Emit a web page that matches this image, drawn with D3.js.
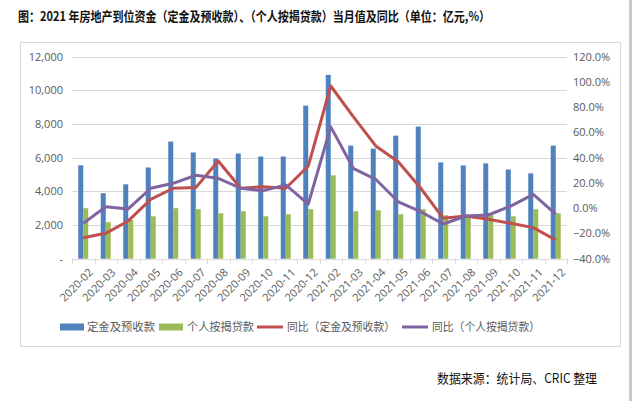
<!DOCTYPE html>
<html><head><meta charset="utf-8">
<script src="https://cdn.jsdelivr.net/npm/d3@7"></script>
<style>
html,body{margin:0;padding:0;background:#fff;}
svg{display:block;}
</style>
</head><body>
<svg id="chart" width="632" height="401"></svg>
<script>
const categories = ["2020-02","2020-03","2020-04","2020-05","2020-06","2020-07","2020-08","2020-09","2020-10","2020-11","2020-12",
  "2021-02","2021-03","2021-04","2021-05","2021-06","2021-07","2021-08","2021-09","2021-10","2021-11","2021-12"];
const depositValues = [5550,3890,4420,5420,6960,6310,5950,6250,6070,6070,9090,
  10920,6720,6540,7310,7850,5720,5540,5660,5300,5070,6720];
const mortgageValues = [3000,2170,2300,2520,3000,2940,2700,2820,2520,2640,2940,
  4950,2820,2880,2640,2940,2580,2520,2580,2520,2940,2700];
const depositYoY = [-23.4,-19.9,-10.1,7.0,15.8,16.3,37.4,15.8,17.0,15.8,33.4,
  96.8,72.5,49.3,36.8,15.8,-8.0,-6.2,-8.8,-12.0,-15.4,-25.2];
const mortgageYoY = [-12.0,1.2,-0.6,15.8,19.7,26.1,23.7,15.8,13.9,18.4,3.3,
  64.4,31.6,22.9,5.1,-2.8,-12.5,-6.2,-5.4,1.7,11.0,-4.6];
const leftTicks = [0,2000,4000,6000,8000,10000,12000];
const rightTicks = [-40,-20,0,20,40,60,80,100,120];
const seriesNames = ["定金及预收款","个人按揭贷款","同比（定金及预收款）","同比（个人按揭贷款）"];
const colors = ["#4F81BD","#9BBB59","#C0504D","#8064A2"];
const titleText = "图：2021 年房地产到位资金（定金及预收款）、（个人按揭贷款）当月值及同比（单位：亿元,%）";
const sourceText = "数据来源：统计局、CRIC 整理";

const svg = d3.select("#chart");
const font = "'Noto Sans CJK SC','Microsoft YaHei',sans-serif";
const L = 72, R = 567, T = 56.7, B = 258.7;

// frame
svg.append("rect").attr("x",20.5).attr("y",42.5).attr("width",600).attr("height",304)
  .attr("fill","none").attr("stroke","#D9D9D9");
svg.append("rect").attr("x",629).attr("y",0).attr("width",3).attr("height",401).attr("fill","#C8C8C8");

// title
svg.append("text").attr("x",18).attr("y",21).attr("font-family",font).attr("font-weight","bold")
  .attr("font-size",13).attr("fill","#111").attr("textLength",472).attr("lengthAdjust","spacingAndGlyphs")
  .text(titleText);

const x = d3.scaleBand().domain(categories).range([L,R]).paddingInner(0).paddingOuter(0);
const yL = d3.scaleLinear().domain([0,12000]).range([B,T]);
const yR = d3.scaleLinear().domain([-40,120]).range([B,T]);

// gridlines
svg.append("g").selectAll("line").data(leftTicks.slice(1)).join("line")
  .attr("x1",L).attr("x2",R).attr("y1",d=>Math.round(yL(d))+0.5).attr("y2",d=>Math.round(yL(d))+0.5)
  .attr("stroke","#D9D9D9").attr("stroke-width",1);

// left axis
const leftAxis = d3.axisLeft(yL).tickValues(leftTicks).tickSize(0).tickPadding(9)
  .tickFormat(d=> d===0 ? "-" : d3.format(",")(d));
const gl = svg.append("g").attr("transform",`translate(${L},0)`).call(leftAxis);
gl.select(".domain").remove();
gl.selectAll("text").attr("font-family","'Open Sans','Liberation Sans',sans-serif").attr("font-size",11).attr("fill","#595959");

// right axis
const rightAxis = d3.axisRight(yR).tickValues(rightTicks).tickSize(0).tickPadding(6)
  .tickFormat(d=> d3.format(".1f")(d)+"%");
const gr = svg.append("g").attr("transform",`translate(${R},0)`).call(rightAxis);
gr.select(".domain").remove();
gr.selectAll("text").attr("font-family","'Open Sans','Liberation Sans',sans-serif").attr("font-size",11).attr("fill","#595959");

// bars
const bw = 5;
svg.append("g").selectAll("rect").data(depositValues).join("rect")
  .attr("x",(d,i)=>x(categories[i])+x.bandwidth()/2-bw).attr("width",bw)
  .attr("y",d=>yL(d)).attr("height",d=>B-yL(d)).attr("fill",colors[0]);
svg.append("g").selectAll("rect").data(mortgageValues).join("rect")
  .attr("x",(d,i)=>x(categories[i])+x.bandwidth()/2).attr("width",bw)
  .attr("y",d=>yL(d)).attr("height",d=>B-yL(d)).attr("fill",colors[1]);

// x axis
const xAxis = d3.axisBottom(x).tickSize(0).tickFormat("");
const gx = svg.append("g").attr("transform",`translate(0,${B+0.5})`).call(xAxis);
gx.select(".domain").attr("stroke","#D9D9D9");
svg.append("g").selectAll("line").data(d3.range(categories.length+1)).join("line")
  .attr("x1",i=>Math.round(L+i*x.step())+0.5).attr("x2",i=>Math.round(L+i*x.step())+0.5)
  .attr("y1",B).attr("y2",B+5).attr("stroke","#D9D9D9");
svg.append("g").selectAll("text").data(categories).join("text")
  .attr("transform",d=>`translate(${x(d)+x.bandwidth()/2+5},${B+9}) rotate(-45)`)
  .attr("text-anchor","end").attr("dy","0.7em")
  .attr("font-family","'Open Sans','Liberation Sans',sans-serif").attr("font-size",11).attr("fill","#595959")
  .text(d=>d);

// lines
const line = d3.line().x((d,i)=>x(categories[i])+x.bandwidth()/2).y(d=>yR(d));
svg.append("path").datum(depositYoY).attr("d",line).attr("fill","none")
  .attr("stroke",colors[2]).attr("stroke-width",3).attr("stroke-linejoin","round");
svg.append("path").datum(mortgageYoY).attr("d",line).attr("fill","none")
  .attr("stroke",colors[3]).attr("stroke-width",3).attr("stroke-linejoin","round");

// legend
const legY = 327;
const legX = [60,159,257,402];
const legTextX = [87,187,287,432];
const legTextW = [68,67,108,108];
seriesNames.forEach((name,i)=>{
  if(i<2){
    svg.append("rect").attr("x",legX[i]).attr("y",legY-3.5).attr("width",24).attr("height",7).attr("fill",colors[i]);
  } else {
    svg.append("line").attr("x1",legX[i]).attr("x2",legX[i]+26).attr("y1",legY).attr("y2",legY)
      .attr("stroke",colors[i]).attr("stroke-width",3);
  }
  svg.append("text").attr("x",legTextX[i]).attr("y",legY).attr("dy","0.36em")
    .attr("font-family",font).attr("font-size",11.5).attr("fill","#595959")
    .attr("textLength",legTextW[i]).attr("lengthAdjust","spacingAndGlyphs").text(name);
});

// source
svg.append("text").attr("x",437).attr("y",378).attr("dy","0.36em")
  .attr("font-family",font).attr("font-size",13).attr("fill","#111")
  .attr("textLength",160).attr("lengthAdjust","spacingAndGlyphs").text(sourceText);
</script>
</body></html>
